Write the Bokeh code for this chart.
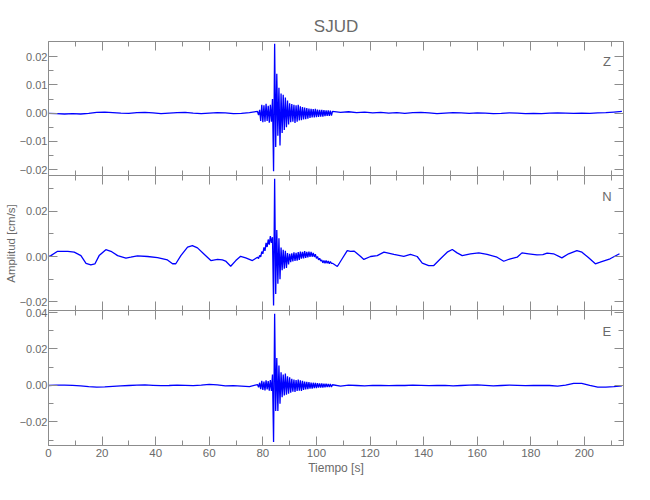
from bokeh.plotting import figure
from bokeh.models import (Range1d, LinearAxis, SingleIntervalTicker, FixedTicker,
                          CustomJSTickFormatter, Label)
from bokeh.embed import file_html
from bokeh.resources import INLINE

# ---------------- data ----------------
TITLE = "SJUD"
COMPONENTS = ["Z", "N", "E"]
X_MIN, X_MAX = 0.0, 214.6
X_LABEL = "Tiempo [s]"
Y_LABEL = "Amplitud [cm/s]"

# burst sampling: pairs of (upper, lower) swings starting at BURST_T0, one pair every BURST_DT s
BURST_T0 = 78.0
BURST_DT = 0.8

# regular quiet-part sampling grid for Z and E
T_QUIET_1 = list(range(0, 78, 3))
T_QUIET_2 = list(range(106, 215, 3))

# --- Z component (cm/s)
Z_BEFORE = [-0.0001, -0.0002, -0.0003, -0.0002, -0.0003, -0.0001, 0.0003, 0.0004, 0.0002, 0.0000,
            -0.0001, 0.0002, 0.0003, 0.0001, -0.0002, 0.0000, 0.0002, 0.0003, 0.0000, -0.0002,
            0.0000, 0.0002, 0.0001, -0.0002, -0.0001, 0.0002]
Z_HI = [0.0006, 0.0012, 0.0030, 0.0028, 0.0033, 0.0026, 0.0030, 0.0050, 0.0246, 0.0140,
        0.0090, 0.0070, 0.0065, 0.0055, 0.0045, 0.0035, 0.0032, 0.0030, 0.0028, 0.0030,
        0.0024, 0.0022, 0.0020, 0.0018, 0.0016, 0.0015, 0.0014, 0.0015, 0.0013, 0.0012,
        0.0012, 0.0011, 0.0010, 0.0010, 0.0009]
Z_LO = [-0.0007, -0.0028, -0.0032, -0.0030, -0.0028, -0.0034, -0.0030, -0.0206, -0.0120, -0.0080,
        -0.0115, -0.0070, -0.0060, -0.0050, -0.0040, -0.0032, -0.0030, -0.0035, -0.0030, -0.0026,
        -0.0025, -0.0022, -0.0021, -0.0020, -0.0017, -0.0015, -0.0015, -0.0014, -0.0013, -0.0012,
        -0.0012, -0.0011, -0.0010, -0.0010, -0.0009]
Z_AFTER = [0.0006, 0.0003, 0.0005, 0.0002, 0.0004, 0.0001, 0.0003, 0.0000, 0.0002, -0.0001,
           0.0002, 0.0003, 0.0001, -0.0002, 0.0000, 0.0002, 0.0001, -0.0001, 0.0001, 0.0000,
           -0.0002, -0.0001, 0.0001, 0.0000, -0.0002, -0.0001, -0.0002, 0.0000, 0.0001, 0.0000,
           -0.0001, 0.0000, -0.0001, 0.0001, 0.0002, 0.0004, 0.0006]

# --- N component (cm/s)
N_T_BEFORE = [0, 0.9, 3.4, 7.2, 9.6, 12.1, 14.0, 15.8, 17.3, 18.9, 21.4, 23.3, 25.8, 28.9, 30.7,
              33.2, 37.0, 40.7, 44.4, 46.3, 47.5, 49.4, 51.9, 53.7, 55.6, 58.1, 60.6, 63.1, 64.9,
              66.1, 68.0, 69.9, 71.7, 73.6, 76.1]
N_BEFORE = [0.0000, 0.0004, 0.0023, 0.0023, 0.0019, 0.0004, -0.0030, -0.0037, -0.0033, 0.0004,
            0.0030, 0.0023, 0.0004, -0.0007, -0.0003, 0.0003, 0.0000, -0.0005, -0.0015, -0.0032,
            -0.0032, 0.0004, 0.0041, 0.0048, 0.0038, 0.0010, -0.0018, -0.0013, -0.0015, -0.0020,
            -0.0043, -0.0018, 0.0001, -0.0006, -0.0018]
N_HI = [-0.0003, 0.0005, 0.0022, 0.0040, 0.0060, 0.0075, 0.0090, 0.0085, 0.0343, 0.0117,
        0.0080, 0.0040, 0.0030, 0.0025, 0.0015, 0.0012, 0.0014, 0.0018, 0.0016, 0.0020,
        0.0022, 0.0020, 0.0024, 0.0020, 0.0022, 0.0020, 0.0016, 0.0010, 0.0000, -0.0008,
        -0.0015, -0.0018, -0.0018, -0.0020, -0.0022]
N_LO = [-0.0009, -0.0002, 0.0012, 0.0025, 0.0042, 0.0052, 0.0060, -0.0216, -0.0165, -0.0120,
        -0.0100, -0.0060, -0.0054, -0.0050, -0.0035, -0.0025, -0.0022, -0.0020, -0.0018, -0.0015,
        -0.0010, -0.0008, -0.0006, -0.0004, -0.0002, -0.0001, -0.0002, -0.0008, -0.0015, -0.0020,
        -0.0028, -0.0030, -0.0030, -0.0032, -0.0030]
N_T_AFTER = [106.0, 107.8, 109.6, 111.5, 112.7, 114.0, 114.6, 116.5, 117.7, 120.2, 122.7, 125.2,
             128.9, 132.6, 135.1, 137.6, 139.5, 141.9, 143.8, 146.3, 148.8, 150.7, 152.5, 154.4,
             157.5, 160.6, 163.7, 167.4, 169.9, 172.4, 174.9, 176.7, 179.2, 182.3, 184.5, 186.1,
             188.5, 191.6, 194.1, 197.2, 199.1, 201.6, 204.1, 205.9, 209.6, 213.1]
N_AFTER = [-0.0030, -0.0044, -0.0010, 0.0026, 0.0023, 0.0024, 0.0019, 0.0000, -0.0013, 0.0000,
           0.0004, 0.0019, 0.0009, 0.0001, 0.0009, 0.0000, -0.0029, -0.0040, -0.0040, -0.0010,
           0.0019, 0.0031, 0.0016, 0.0004, 0.0012, 0.0016, 0.0009, -0.0003, -0.0021, -0.0010,
           -0.0003, 0.0016, 0.0012, 0.0007, 0.0008, 0.0015, 0.0012, -0.0006, 0.0012, 0.0026,
           0.0019, -0.0006, -0.0032, -0.0025, -0.0010, 0.0012]

# --- E component (cm/s)
E_BEFORE = [0.0000, 0.0002, 0.0002, 0.0001, -0.0002, -0.0006, -0.0009, -0.0008, -0.0005, -0.0002,
            0.0000, 0.0002, 0.0003, 0.0001, -0.0001, 0.0000, 0.0002, 0.0001, -0.0001, 0.0002,
            0.0006, 0.0003, -0.0002, -0.0001, -0.0003, -0.0006]
E_HI = [0.0005, 0.0015, 0.0025, 0.0022, 0.0028, 0.0024, 0.0030, 0.0060, 0.0393, 0.0150,
        0.0110, 0.0073, 0.0060, 0.0065, 0.0050, 0.0045, 0.0036, 0.0033, 0.0030, 0.0032,
        0.0028, 0.0025, 0.0022, 0.0020, 0.0018, 0.0016, 0.0015, 0.0014, 0.0013, 0.0012,
        0.0011, 0.0010, 0.0010, 0.0009, 0.0008]
E_LO = [-0.0010, -0.0020, -0.0025, -0.0027, -0.0022, -0.0028, -0.0030, -0.0310, -0.0140, -0.0140,
        -0.0100, -0.0064, -0.0055, -0.0050, -0.0045, -0.0040, -0.0034, -0.0036, -0.0030, -0.0028,
        -0.0030, -0.0024, -0.0022, -0.0020, -0.0018, -0.0017, -0.0015, -0.0014, -0.0012, -0.0012,
        -0.0011, -0.0010, -0.0009, -0.0009, -0.0008]
E_AFTER = [0.0004, -0.0003, 0.0002, 0.0000, -0.0002, 0.0001, 0.0000, -0.0001, 0.0001, 0.0000,
           0.0002, 0.0001, -0.0001, 0.0000, 0.0001, -0.0002, 0.0000, 0.0002, 0.0003, 0.0001,
           -0.0002, 0.0000, 0.0002, 0.0001, -0.0001, 0.0000, 0.0001, 0.0000, -0.0003, 0.0002,
           0.0012, 0.0012, 0.0000, -0.0009, -0.0009, -0.0006, -0.0002]

# y ranges and ticks per panel (top to bottom)
Y_RANGES = [(-0.0221, 0.0254), (-0.0238, 0.0357), (-0.0329, 0.0411)]
Y_MAJOR = [[-0.02, -0.01, 0.0, 0.01, 0.02], [-0.02, 0.0, 0.02], [-0.02, 0.0, 0.02, 0.04]]
Y_MINOR = [[-0.015, -0.005, 0.005, 0.015], [-0.01, 0.01, 0.03], [-0.03, -0.01, 0.01, 0.03]]
LABEL_POS = [(208.4, 0.0182), (208.4, 0.0265), (208.4, 0.0296)]

# ---------------- layout / styling ----------------
FRAME_H = 404                                   # stacked frame height (units of the main range)
BANDS = [(270, 404), (135, 270), (0, 135)]      # vertical band of each panel inside the frame
FONT = "Liberation Sans"
AX = "#8c8c8c"
TXT = "#6a6a6a"
TRACE = "#0000ff"


def build(t_before, v_before, hi, lo, t_after, v_after):
    t = list(t_before)
    v = list(v_before)
    for k, (h, l) in enumerate(zip(hi, lo)):
        t0 = BURST_T0 + k * BURST_DT
        t += [t0, t0 + BURST_DT / 2]
        v += [h, l]
    t += list(t_after)
    v += list(v_after)
    return t, v


traces = [
    build(T_QUIET_1, Z_BEFORE, Z_HI, Z_LO, T_QUIET_2, Z_AFTER),
    build(N_T_BEFORE, N_BEFORE, N_HI, N_LO, N_T_AFTER, N_AFTER),
    build(T_QUIET_1, E_BEFORE, E_HI, E_LO, T_QUIET_2, E_AFTER),
]

p = figure(width=638, height=41 + FRAME_H + 35,
           x_range=Range1d(X_MIN, X_MAX), y_range=Range1d(0, FRAME_H),
           x_axis_type=None, y_axis_type=None,
           output_backend="svg", toolbar_location=None,
           min_border_left=48, min_border_right=15, min_border_top=41, min_border_bottom=35,
           title=TITLE)
p.outline_line_color = AX
p.background_fill_color = "white"
p.border_fill_color = "white"
p.title.align = "center"
p.title.text_font = FONT
p.title.text_font_size = "17px"
p.title.text_font_style = "normal"
p.title.text_color = TXT
p.title.standoff = 12

NO_LABELS = CustomJSTickFormatter(code="return ''")


def style(ax, labels=True):
    ax.axis_line_color = AX
    ax.major_tick_line_color = AX
    ax.minor_tick_line_color = AX
    ax.major_tick_in = 9
    ax.major_tick_out = 0
    ax.minor_tick_in = 5
    ax.minor_tick_out = 0
    ax.major_label_text_font = FONT
    ax.major_label_text_color = TXT
    ax.major_label_text_font_size = "11px"
    ax.major_label_standoff = 1
    if not labels:
        ax.formatter = NO_LABELS
    return ax


def x_ticker():
    return SingleIntervalTicker(interval=20, num_minor_ticks=2)


# x tick rows: top edge and both sides of every panel boundary
for loc in (FRAME_H, BANDS[0][0], BANDS[1][0]):
    p.add_layout(style(LinearAxis(ticker=x_ticker(), fixed_location=loc), False), "above")
for loc in (BANDS[0][0], BANDS[1][0]):
    p.add_layout(style(LinearAxis(ticker=x_ticker(), fixed_location=loc), False), "below")

# labelled bottom axis
xb = style(LinearAxis(ticker=x_ticker()))
xb.major_label_text_font_size = "11.5px"
xb.major_label_standoff = 3
xb.axis_label = X_LABEL
xb.axis_label_text_font = FONT
xb.axis_label_text_font_style = "normal"
xb.axis_label_text_font_size = "12px"
xb.axis_label_text_color = TXT
xb.axis_label_standoff = 1
p.add_layout(xb, "below")

# per-panel y ranges; left tick positions follow each panel's own range
tick_pos, tick_lab, minor_pos = [], [], []
for i in range(3):
    name = "p%d" % i
    a, b = Y_RANGES[i]
    y0, y1 = BANDS[i]
    per = (b - a) / (y1 - y0)
    p.extra_y_ranges[name] = Range1d(a - y0 * per, b + (FRAME_H - y1) * per)
    for v in Y_MAJOR[i]:
        tick_pos.append(y0 + (v - a) / per)
        tick_lab.append(("%.2f" % v).replace("-", "\u2212"))
    for v in Y_MINOR[i]:
        minor_pos.append(y0 + (v - a) / per)

    yr = style(LinearAxis(y_range_name=name, fixed_location=X_MAX,
                          ticker=FixedTicker(ticks=Y_MAJOR[i], minor_ticks=Y_MINOR[i])), False)
    p.add_layout(yr, "right")

    t, v = traces[i]
    p.line(t, v, y_range_name=name, line_color=TRACE, line_width=1.3)

    lx, ly = LABEL_POS[i]
    p.add_layout(Label(x=lx, y=ly, y_range_name=name, text=COMPONENTS[i],
                       text_align="center", text_baseline="middle",
                       text_font=FONT, text_font_size="13px", text_color=TXT))

left_fmt = CustomJSTickFormatter(args=dict(pos=tick_pos, lab=tick_lab), code="""
let best = 0, d = 1e9;
for (let j = 0; j < pos.length; j++) {
  const e = Math.abs(pos[j] - tick);
  if (e < d) { d = e; best = j; }
}
return lab[best];
""")
yl = style(LinearAxis(ticker=FixedTicker(ticks=tick_pos, minor_ticks=minor_pos), formatter=left_fmt))
yl.axis_label = Y_LABEL
yl.axis_label_text_font = FONT
yl.axis_label_text_font_style = "normal"
yl.axis_label_text_font_size = "11.5px"
yl.axis_label_text_color = TXT
yl.axis_label_standoff = 0
p.add_layout(yl, "left")

open("out.html", "w").write(file_html(p, INLINE))
